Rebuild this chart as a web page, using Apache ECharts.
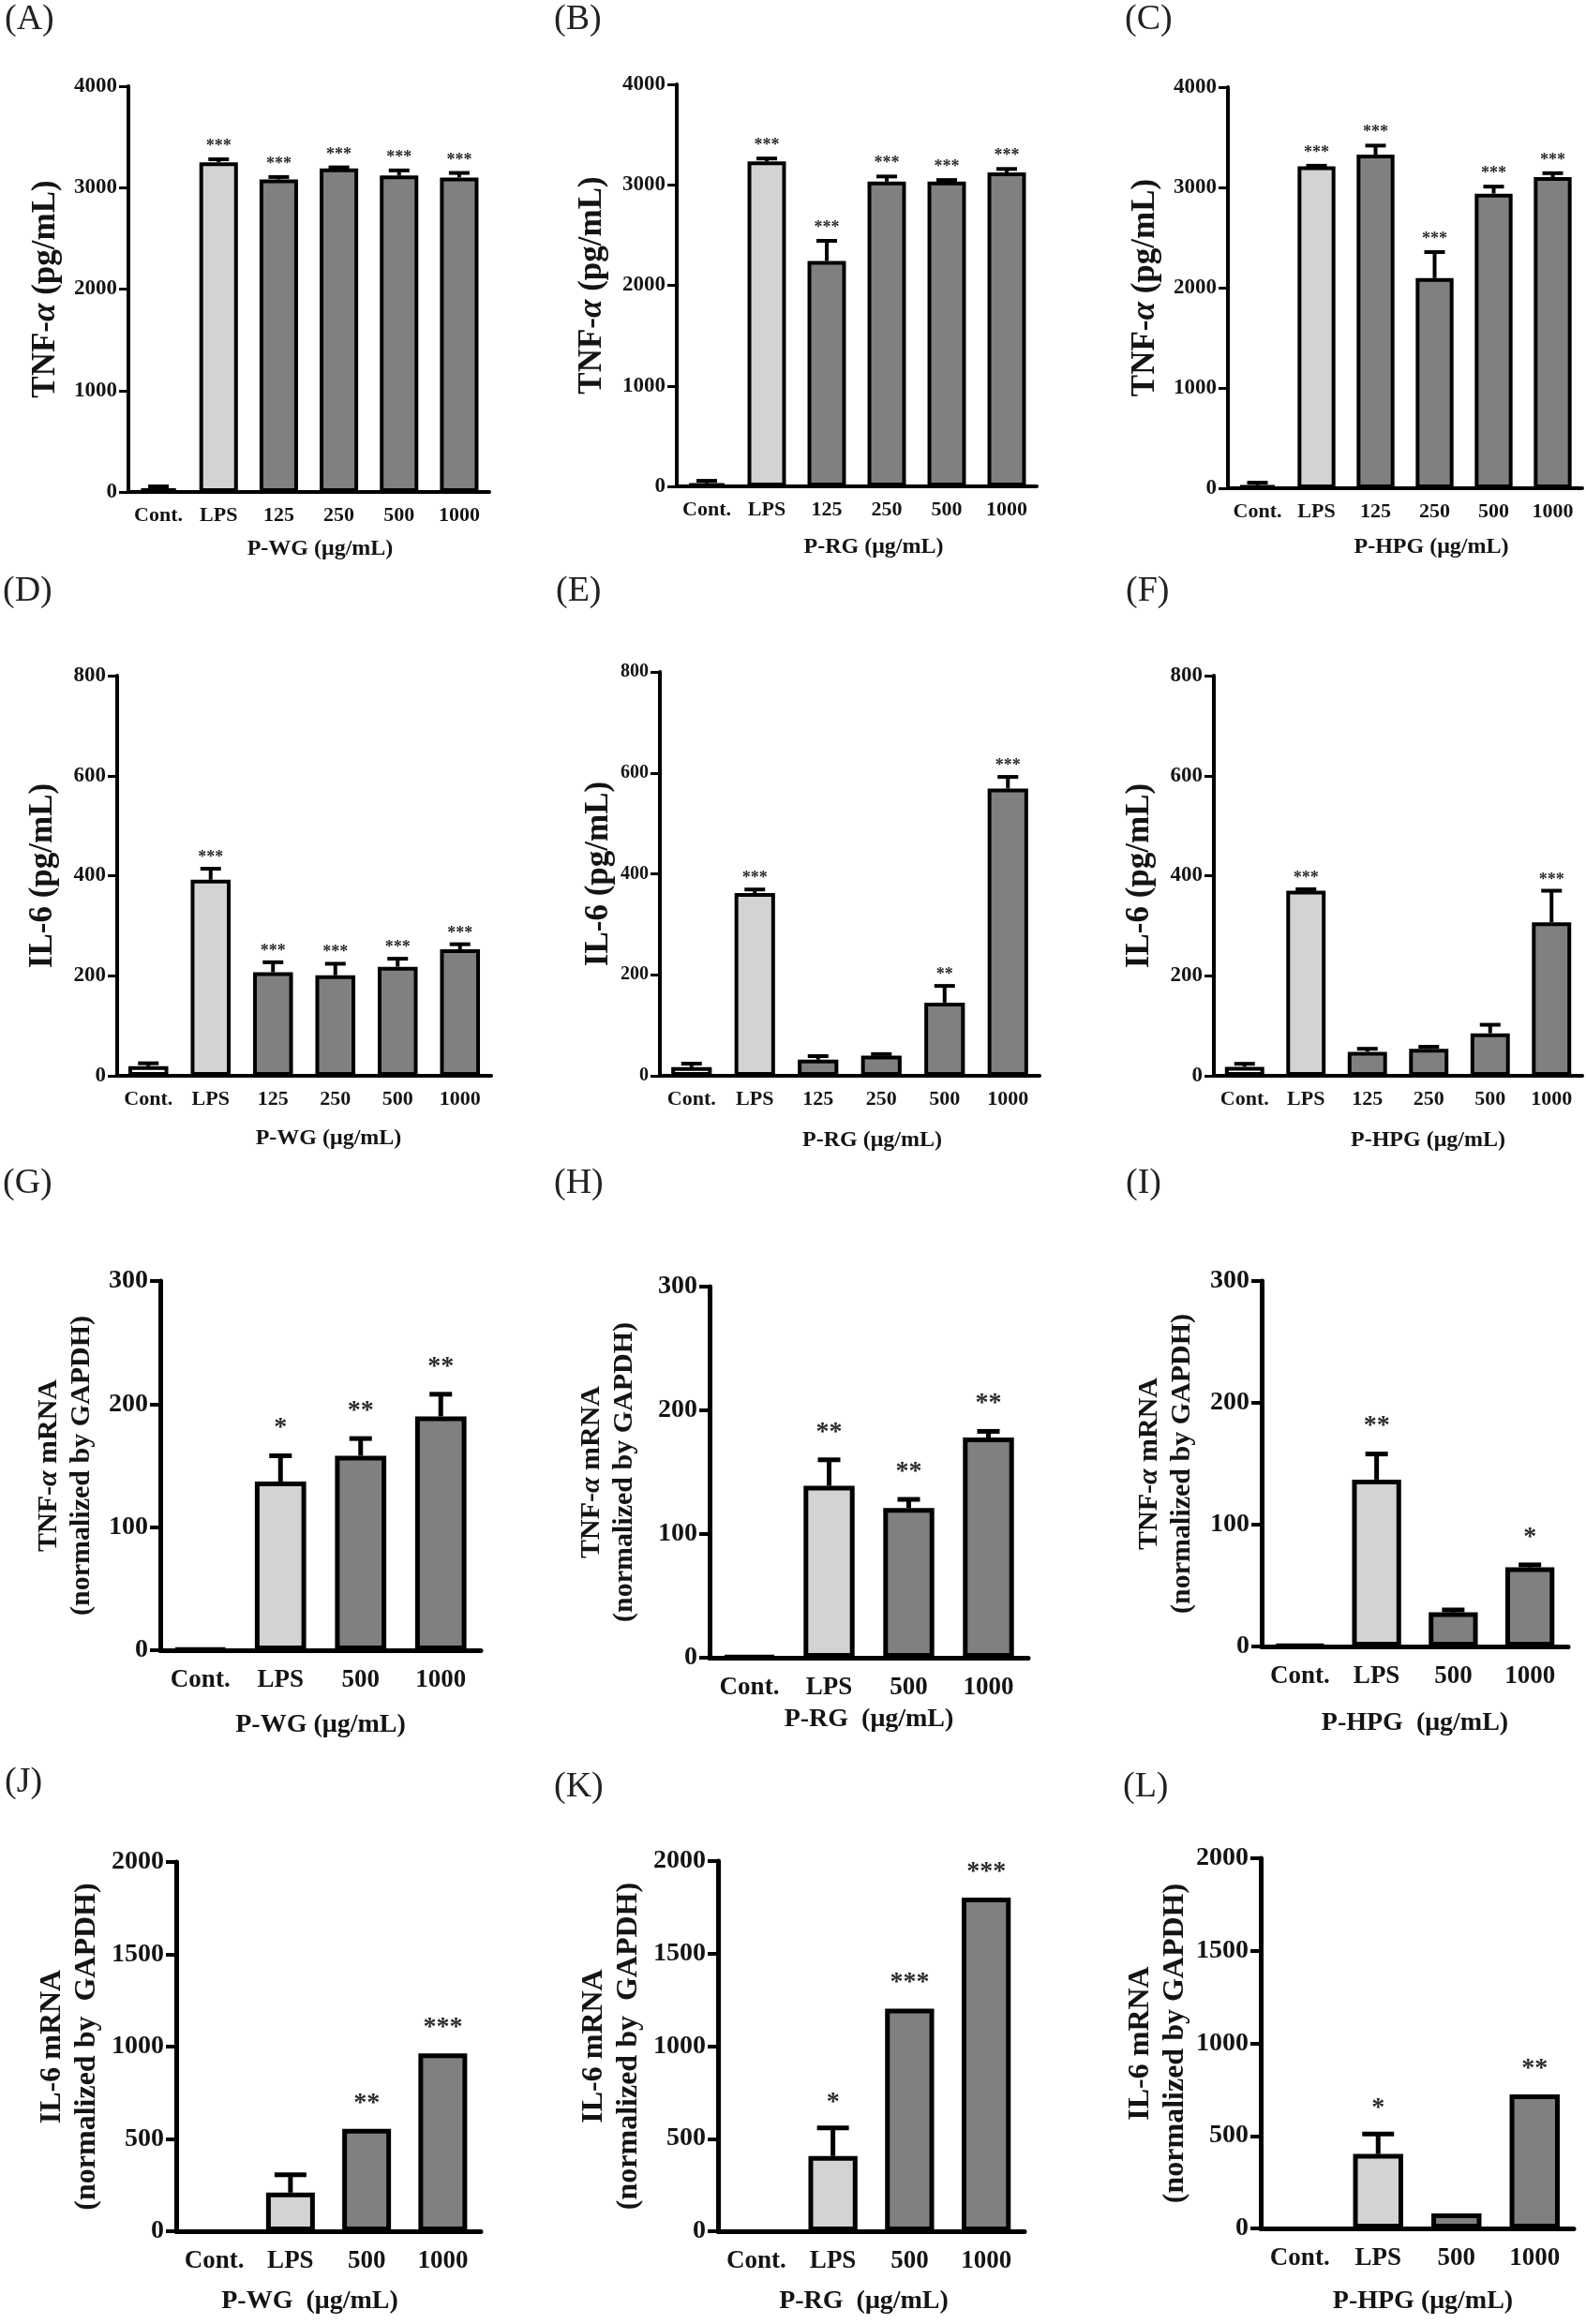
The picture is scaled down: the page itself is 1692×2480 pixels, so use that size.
<!DOCTYPE html>
<html><head><meta charset="utf-8">
<script src="https://cdn.jsdelivr.net/npm/echarts@6/dist/echarts.min.js"></script>
<style>html,body{margin:0;padding:0;background:#fff}#c{width:1692px;height:2480px}</style>
</head><body><div id="c"></div>
<script>
// ---------- categories & ticks ----------
const catsSix = ['Cont.', 'LPS', '125', '250', '500', '1000'];
const catsFour = ['Cont.', 'LPS', '500', '1000'];
const ticksTNF = [0, 1000, 2000, 3000, 4000];
const ticksIL6 = [0, 200, 400, 600, 800];
const ticksTNFm = [0, 100, 200, 300];
const ticksIL6m = [0, 500, 1000, 1500, 2000];

// ---------- (A) TNF-α, P-WG ----------
const tnfWG = [35, 3250, 3080, 3190, 3120, 3100];
const tnfWGErr = [20, 30, 25, 10, 50, 45];
const tnfWGSig = ['', '***', '***', '***', '***', '***'];
// ---------- (B) TNF-α, P-RG ----------
const tnfRG = [30, 3232, 2243, 3033, 3033, 3123];
const tnfRGErr = [25, 30, 200, 50, 15, 35];
const tnfRGSig = ['', '***', '***', '***', '***', '***'];
// ---------- (C) TNF-α, P-HPG ----------
const tnfHPG = [30, 3211, 3327, 2095, 2938, 3102];
const tnfHPGErr = [25, 5, 90, 260, 70, 40];
const tnfHPGSig = ['', '***', '***', '***', '***', '***'];
// ---------- (D) IL-6, P-WG ----------
const il6WG = [19, 392, 207, 201, 218, 253];
const il6WGErr = [6, 22, 20, 23, 16, 10];
const il6WGSig = ['', '***', '***', '***', '***', '***'];
// ---------- (E) IL-6, P-RG ----------
const il6RG = [17, 362, 32, 40, 145, 569];
const il6RGErr = [7, 7, 7, 3, 33, 23];
const il6RGSig = ['', '***', '', '', '**', '***'];
// ---------- (F) IL-6, P-HPG ----------
const il6HPG = [18, 370, 48, 54, 85, 307];
const il6HPGErr = [6, 3, 6, 4, 17, 63];
const il6HPGSig = ['', '***', '', '', '', '***'];
// ---------- (G) TNF-α mRNA, P-WG ----------
const tnfmWG = [1, 137, 158, 190];
const tnfmWGErr = [0, 21, 14, 18];
const tnfmWGSig = ['', '*', '**', '**'];
// ---------- (H) TNF-α mRNA, P-RG ----------
const tnfmRG = [1, 139, 121, 178];
const tnfmRGErr = [0, 21, 7, 5];
const tnfmRGSig = ['', '**', '**', '**'];
// ---------- (I) TNF-α mRNA, P-HPG ----------
const tnfmHPG = [1, 137, 28, 65];
const tnfmHPGErr = [0, 21, 2, 2];
const tnfmHPGSig = ['', '**', '', '*'];
// ---------- (J) IL-6 mRNA, P-WG ----------
const il6mWG = [0, 209, 555, 963];
const il6mWGErr = [0, 97, 0, 0];
const il6mWGSig = ['', '', '**', '***'];
// ---------- (K) IL-6 mRNA, P-RG ----------
const il6mRG = [0, 406, 1202, 1803];
const il6mRGErr = [0, 152, 0, 0];
const il6mRGSig = ['', '*', '***', '***'];
// ---------- (L) IL-6 mRNA, P-HPG ----------
const il6mHPG = [0, 402, 81, 724];
const il6mHPGErr = [0, 108, 0, 0];
const il6mHPGSig = ['', '*', '', '**'];

const panelLetters = ['(A)', '(B)', '(C)', '(D)', '(E)', '(F)', '(G)', '(H)', '(I)', '(J)', '(K)', '(L)'];
const yNames = [
  'TNF-{i|α} (pg/mL)', 'TNF-{i|α} (pg/mL)', 'TNF-{i|α} (pg/mL)',
  'IL-6 (pg/mL)', 'IL-6 (pg/mL)', 'IL-6 (pg/mL)',
  'TNF-{i|α} mRNA\n(normalized by GAPDH)', 'TNF-{i|α} mRNA\n(normalized by GAPDH)', 'TNF-{i|α} mRNA\n(normalized by GAPDH)',
  'IL-6 mRNA\n(normalized by  GAPDH)', 'IL-6 mRNA\n(normalized by  GAPDH)', 'IL-6 mRNA\n(normalized by GAPDH)'
];
const xNames = [
  'P-WG (μg/mL)', 'P-RG (μg/mL)', 'P-HPG (μg/mL)',
  'P-WG (μg/mL)', 'P-RG (μg/mL)', 'P-HPG (μg/mL)',
  'P-WG (μg/mL)', 'P-RG  (μg/mL)', 'P-HPG  (μg/mL)',
  'P-WG  (μg/mL)', 'P-RG  (μg/mL)', 'P-HPG (μg/mL)'
];

const panels = [
  { cats: catsSix, vals: tnfWG, errs: tnfWGErr, sig: tnfWGSig, ticks: ticksTNF },
  { cats: catsSix, vals: tnfRG, errs: tnfRGErr, sig: tnfRGSig, ticks: ticksTNF },
  { cats: catsSix, vals: tnfHPG, errs: tnfHPGErr, sig: tnfHPGSig, ticks: ticksTNF },
  { cats: catsSix, vals: il6WG, errs: il6WGErr, sig: il6WGSig, ticks: ticksIL6 },
  { cats: catsSix, vals: il6RG, errs: il6RGErr, sig: il6RGSig, ticks: ticksIL6 },
  { cats: catsSix, vals: il6HPG, errs: il6HPGErr, sig: il6HPGSig, ticks: ticksIL6 },
  { cats: catsFour, vals: tnfmWG, errs: tnfmWGErr, sig: tnfmWGSig, ticks: ticksTNFm },
  { cats: catsFour, vals: tnfmRG, errs: tnfmRGErr, sig: tnfmRGSig, ticks: ticksTNFm },
  { cats: catsFour, vals: tnfmHPG, errs: tnfmHPGErr, sig: tnfmHPGSig, ticks: ticksTNFm },
  { cats: catsFour, vals: il6mWG, errs: il6mWGErr, sig: il6mWGSig, ticks: ticksIL6m },
  { cats: catsFour, vals: il6mRG, errs: il6mRGErr, sig: il6mRGSig, ticks: ticksIL6m },
  { cats: catsFour, vals: il6mHPG, errs: il6mHPGErr, sig: il6mHPGSig, ticks: ticksIL6m }
];

// ---------- layout (pixels) ----------
// [x0, y0, x1, y1, yNameGap, xNameGap, xNameShift, labelX, labelY, row, tickFs]
const layout = [
  [137, 92, 522, 525, 69, 49, 12, 5, 2, 0, 23],
  [722, 90, 1106, 519, 71, 53, 18, 591, 2, 0, 23],
  [1310, 93, 1688, 521, 69, 51, 28, 1200, 2, 0, 23],
  [125, 721, 524, 1148, 60, 55, 26, 3, 612, 1, 23],
  [704, 717, 1109, 1148, 46, 57, 24, 593, 612, 1, 20],
  [1295, 721, 1688, 1148, 60, 57, 32, 1201, 612, 1, 23],
  [171, 1367, 513, 1761, 66, 66, 0, 3, 1244, 2, 28],
  [757, 1373, 1097, 1769, 73, 52, 0, 591, 1244, 2, 28],
  [1346, 1367, 1673, 1757, 67, 68, 0, 1201, 1244, 2, 28],
  [188, 1987, 513, 2381, 77, 61, -20, 5, 1883, 3, 28],
  [766, 1986, 1093, 2381, 77, 61, -8, 591, 1888, 3, 28],
  [1345, 1983, 1679, 2378, 69, 64, 6, 1198, 1888, 3, 28]
];
const rowStyle = [
  { catFs: 22, yNameFs: 35, xNameFs: 24, starFs: 18, starOff: 16, axisW: 4, borderW: 4, errW: 4, cap: 11, tickLen: 10, catMargin: 14, lineH: 38 },
  { catFs: 22, yNameFs: 35, xNameFs: 24, starFs: 18, starOff: 14, axisW: 4, borderW: 4, errW: 4, cap: 11, tickLen: 10, catMargin: 14, lineH: 38 },
  { catFs: 27, yNameFs: 30, xNameFs: 28, starFs: 28, starOff: 33, axisW: 5, borderW: 5, errW: 5, cap: 12, tickLen: 11, catMargin: 19, lineH: 35 },
  { catFs: 27, yNameFs: 32, xNameFs: 28, starFs: 28, starOff: 31, axisW: 5, borderW: 5, errW: 5, cap: 17, tickLen: 11, catMargin: 19, lineH: 37 }
];
const barColors = ['#ffffff', '#d3d3d3', '#808080', '#808080', '#808080', '#808080'];
const FONT = '"Liberation Serif", "Times New Roman", serif';

const chart = echarts.init(document.getElementById('c'), null, { renderer: 'canvas' });
const option = { animation: false, backgroundColor: '#ffffff', grid: [], xAxis: [], yAxis: [], series: [], graphic: [] };

panels.forEach((p, i) => {
  const L = layout[i];
  const S = rowStyle[L[9]];
  const tickFs = L[10];
  option.grid.push({ left: L[0], top: L[1], width: L[2] - L[0], height: L[3] - L[1], containLabel: false, outerBoundsMode: 'none' });
  const shift = L[6];
  option.xAxis.push({
    type: 'category', gridIndex: i, data: p.cats, boundaryGap: true,
    axisLine: { lineStyle: { color: '#000', width: S.axisW } },
    axisTick: { alignWithLabel: true, length: S.tickLen, lineStyle: { color: '#000', width: S.axisW - 1 } },
    axisLabel: { margin: S.catMargin, fontSize: S.catFs, fontWeight: 'bold', fontFamily: FONT, color: '#141414', interval: 0 },
    name: xNames[i], nameLocation: 'middle', nameGap: L[5],
    nameTextStyle: { fontSize: S.xNameFs, fontWeight: 'bold', fontFamily: FONT, color: '#141414', verticalAlign: 'top',
      padding: shift >= 0 ? [0, 0, 0, 2 * shift] : [0, -2 * shift, 0, 0] }
  });
  const t = p.ticks;
  option.yAxis.push({
    type: 'value', gridIndex: i, min: t[0], max: t[t.length - 1], interval: t[1] - t[0],
    splitLine: { show: false },
    axisLine: { show: true, lineStyle: { color: '#000', width: S.axisW } },
    axisTick: { show: true, length: S.tickLen, lineStyle: { color: '#000', width: S.axisW - 1 } },
    axisLabel: { margin: S.tickLen + 2, fontSize: tickFs, fontWeight: 'bold', fontFamily: FONT, color: '#141414',
      formatter: function (v) { return String(v); } },
    name: yNames[i], nameLocation: 'middle', nameGap: L[4], nameRotate: 90,
    nameTextStyle: {
      fontSize: S.yNameFs, fontWeight: 'bold', fontFamily: FONT, color: '#141414', lineHeight: S.lineH, align: 'center',
      rich: { i: { fontStyle: 'italic', fontWeight: 'bold', fontSize: S.yNameFs, fontFamily: FONT, color: '#141414', lineHeight: S.lineH } }
    }
  });
  option.series.push({
    type: 'bar', xAxisIndex: i, yAxisIndex: i, barWidth: '64%',
    data: p.vals.map((v, j) => ({ value: v, itemStyle: { color: barColors[j], borderWidth: v === 0 ? 0 : S.borderW } })),
    itemStyle: { borderColor: '#000', borderWidth: S.borderW },
    emphasis: { disabled: true }
  });
  const sig = p.sig;
  option.series.push({
    type: 'custom', xAxisIndex: i, yAxisIndex: i, z: 5,
    data: p.vals.map((v, j) => [j, v, p.errs[j]]),
    encode: { x: 0, y: 1 },
    renderItem: function (params, api) {
      const x = api.value(0), m = api.value(1), e = api.value(2);
      const p0 = api.coord([x, m]);
      const p1 = api.coord([x, m + e]);
      const ch = [];
      if (e > 0) {
        ch.push({ type: 'line', shape: { x1: p0[0], y1: p0[1], x2: p1[0], y2: p1[1] }, style: { stroke: '#000', lineWidth: S.errW } });
        ch.push({ type: 'line', shape: { x1: p1[0] - S.cap, y1: p1[1], x2: p1[0] + S.cap, y2: p1[1] }, style: { stroke: '#000', lineWidth: S.errW } });
      }
      const s = sig[params.dataIndex];
      if (s) {
        ch.push({ type: 'text', style: { text: s, x: p1[0], y: p1[1] - S.starOff + 0.13 * S.starFs, align: 'center', verticalAlign: 'middle',
          textAlign: 'center', textVerticalAlign: 'middle', font: 'bold ' + S.starFs + 'px ' + FONT, fill: '#2a2a2a' } });
      }
      return { type: 'group', children: ch };
    }
  });
  option.graphic.push({ type: 'text', left: L[7], top: L[8], style: { text: panelLetters[i], font: 'normal 38px ' + FONT, fill: '#222' } });
});

chart.setOption(option);
</script>
</body></html>
